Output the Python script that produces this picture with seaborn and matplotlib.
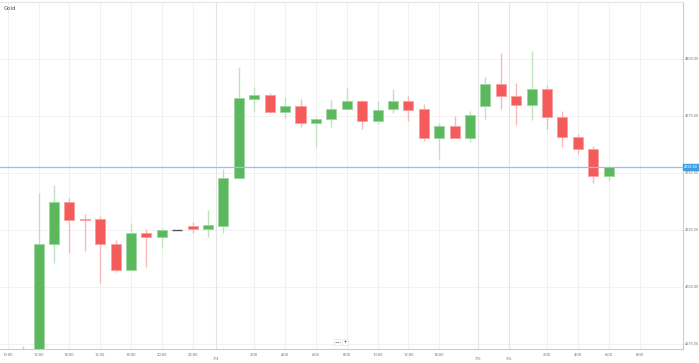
import matplotlib
matplotlib.use("Agg")
import matplotlib.pyplot as plt
import seaborn as sns
import numpy as np
import pandas as pd

# ---- data (hourly candles, Gold) ----
opens = [4668.0, 4660.0, 4718.99, 4737.41, 4729.60, 4729.69, 4718.99, 4707.46, 4723.55, 4722.06,
         4724.87, 4726.75, 4725.31, 4726.75, 4747.68, 4782.59, 4784.21, 4776.75, 4779.39, 4771.93,
         4773.68, 4778.20, 4781.58, 4772.81, 4777.94, 4781.71, 4777.94, 4765.35, 4770.48, 4765.35,
         4779.25, 4788.90, 4783.77, 4779.82, 4786.97, 4774.69, 4765.92, 4760.39, 4748.82]
highs = [4674.0, 4741.23, 4744.74, 4739.04, 4732.02, 4731.14, 4720.61, 4727.94, 4725.31, 4725.75,
         4724.87, 4728.64, 4733.77, 4751.75, 4796.36, 4787.59, 4785.22, 4783.46, 4782.32, 4774.69,
         4782.02, 4787.15, 4782.02, 4781.71, 4786.84, 4783.77, 4780.13, 4771.80, 4775.00, 4777.06,
         4792.24, 4802.50, 4789.61, 4803.51, 4788.46, 4777.06, 4766.97, 4761.84, 4753.07]
lows = [4655.0, 4655.0, 4710.53, 4715.04, 4715.79, 4701.62, 4706.71, 4707.40, 4708.90, 4717.24,
        4724.87, 4723.55, 4722.06, 4723.82, 4747.60, 4777.33, 4776.45, 4773.99, 4770.04, 4761.54,
        4770.04, 4777.93, 4769.17, 4771.49, 4776.45, 4772.94, 4764.17, 4756.14, 4765.35, 4763.60,
        4773.82, 4778.20, 4771.05, 4773.25, 4769.30, 4761.54, 4758.20, 4745.75, 4746.62]
closes = [4660.0, 4718.86, 4737.41, 4729.39, 4729.39, 4718.86, 4707.46, 4723.55, 4722.06, 4724.87,
          4724.87, 4725.31, 4727.06, 4747.81, 4783.03, 4784.21, 4776.75, 4779.52, 4771.93, 4773.68,
          4778.20, 4781.58, 4772.81, 4777.63, 4781.71, 4777.50, 4765.22, 4770.48, 4765.35, 4775.57,
          4788.90, 4783.77, 4779.96, 4786.71, 4774.69, 4765.92, 4760.53, 4748.82, 4752.60]

current_price = 4752.60
current_label = "4752.60"

y_ticks = [4675, 4700, 4725, 4750, 4775, 4800]
y_ticklabels = ["4675.00", "4700.00", "4725.00", "4750.00", "4775.00", "4800.00"]

x_tick_pos = [-1, 1, 3, 5, 7, 9, 11, 15, 17, 19, 21, 23, 25, 27, 34, 36, 38, 40]
x_tick_labels = ["10:00", "12:00", "14:00", "16:00", "18:00", "20:00", "22:00",
                 "2:00", "4:00", "6:00", "8:00", "10:00", "12:00", "14:00",
                 "2:00", "4:00", "6:00", "8:00"]
date_pos = [12.5, 29.5, 31.5]
date_labels = ["7/3", "7/5", "7/6"]

title = "Gold"

df = pd.DataFrame({"open": opens, "high": highs, "low": lows, "close": closes})
df["idx"] = np.arange(len(df))

# ---- style ----
sns.set_theme(style="white")
plt.rcParams["font.family"] = ["Roboto", "DejaVu Sans"]

W, H = 699, 363
fig = plt.figure(figsize=(W / 100, H / 100), dpi=100)
fig.patch.set_facecolor("white")
ax = fig.add_axes([0 / W, (H - 349) / H, 683 / W, (349 - 2) / H])
ax.set_facecolor("white")

x0 = -1.5
x1 = 42.82
ax.set_xlim(x0, x1)
ax.set_ylim(4672.8, 4825.0)

GREEN = "#5cb85c"
GREEN_EDGE = "#9fd49f"
GREEN_WICK = "#bfe3bf"
RED = "#f55b5b"
RED_EDGE = "#f8a0a0"
RED_WICK = "#f8b8b8"
DOJI = "#555555"

# grid lines
for y in y_ticks:
    ax.axhline(y, color="#f2f2f2", lw=0.7, zorder=0)
for xp in x_tick_pos:
    ax.axvline(xp, color="#f0f0f0", lw=0.7, zorder=0)
for xp in date_pos:
    ax.axvline(xp, color="#e4e4e4", lw=0.8, zorder=0)

# candles
up = df["close"] > df["open"]
down = df["close"] < df["open"]
flat = df["close"] == df["open"]
width = 0.65

for mask, face, edge, wick in [(up, GREEN, GREEN_EDGE, GREEN_WICK), (down, RED, RED_EDGE, RED_WICK)]:
    sub = df[mask]
    ax.vlines(sub["idx"], sub["low"], sub["high"], colors=wick, lw=1.0, zorder=2)
    bottoms = np.minimum(sub["open"], sub["close"])
    heights = np.maximum(np.abs(sub["close"] - sub["open"]), 0.35)
    ax.bar(sub["idx"], heights, bottom=bottoms, width=width, color=face,
           edgecolor=edge, linewidth=0.6, zorder=3)

subf = df[flat]
ax.hlines(subf["close"], subf["idx"] - width / 2, subf["idx"] + width / 2,
          colors=DOJI, lw=1.0, zorder=3)

# current price line
ax.axhline(current_price, color="#8cc6ee", lw=0.9, zorder=4)

# axes styling
ax.spines["left"].set_visible(False)
ax.spines["bottom"].set_color("#cccccc")
ax.spines["bottom"].set_linewidth(0.8)
ax.spines["right"].set_color("#cccccc")
ax.spines["right"].set_linewidth(0.8)
ax.spines["top"].set_color("#e6e6e6")
ax.spines["top"].set_linewidth(0.8)

ax.yaxis.tick_right()
ax.set_yticks(y_ticks)
ax.set_yticklabels(y_ticklabels)
ax.tick_params(axis="y", length=0, pad=1.2, labelsize=2.8, labelcolor="#777777")
ax.set_xticks(x_tick_pos)
ax.set_xticklabels(x_tick_labels)
ax.tick_params(axis="x", length=2, width=0.5, color="#dddddd", pad=1.2,
               labelsize=3.0, labelcolor="#777777")

for xp, lab in zip(date_pos, date_labels):
    ax.text(xp, -10.5 / 347, lab, transform=ax.get_xaxis_transform(), ha="center", va="center",
            fontsize=3.0, color="#777777")

# current price label box
ax.text(1.002, current_price, current_label, transform=ax.get_yaxis_transform(),
        ha="left", va="center", fontsize=2.8, color="white",
        bbox=dict(boxstyle="square,pad=0.3", fc="#3d9fe3", ec="#3d9fe3"))

# title
fig.text(4 / W, 1 - 8 / H, title, ha="left", va="center", fontsize=4.2, color="#555555")

# zoom buttons
fig.text(337 / W, 1 - 342 / H, "\u2212", ha="center", va="center", fontsize=4.2, color="#666666",
         family=["DejaVu Sans"],
         bbox=dict(boxstyle="square,pad=0.15", fc="white", ec="#dddddd", lw=0.4))
fig.text(345 / W, 1 - 342 / H, "+", ha="center", va="center", fontsize=4.2, color="#666666",
         bbox=dict(boxstyle="square,pad=0.15", fc="white", ec="#dddddd", lw=0.4))

fig.savefig("out.png", dpi=100, facecolor="white")
